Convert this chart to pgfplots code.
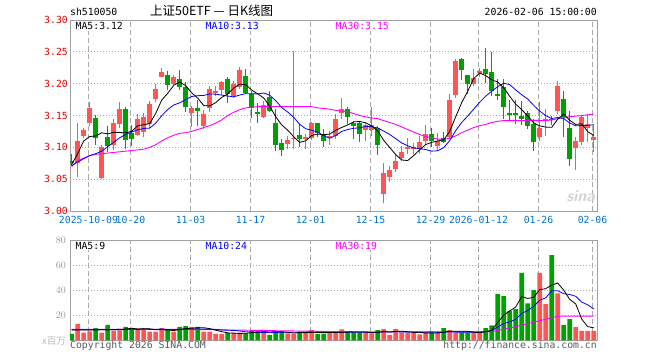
\documentclass[border=0pt]{standalone}
\usepackage{pgfplots}
\pgfplotsset{compat=1.18}
\usepackage{pgfplotstable}
\usepackage{fontspec}
\setmainfont{DejaVu Sans}
\setmonofont{DejaVu Sans Mono}
\newfontfamily\cjk{Noto Sans CJK SC}

\definecolor{upred}{RGB}{255,85,85}
\definecolor{dngreen}{RGB}{0,160,0}
\definecolor{mablue}{RGB}{0,0,255}
\definecolor{mamag}{RGB}{255,0,255}
\definecolor{tickred}{RGB}{230,0,0}
\definecolor{tickblue}{RGB}{0,114,206}
\definecolor{framegray}{RGB}{160,160,160}
\definecolor{gridgray}{RGB}{170,170,170}
\definecolor{volgray}{RGB}{150,150,150}

\pgfplotstableread{
k o h l c v
1 3.076 3.139 3.054 3.110 13.1
2 3.118 3.130 3.114 3.127 6.2
3 3.139 3.171 3.134 3.162 7.3
5 3.052 3.104 3.051 3.101 6.3
7 3.104 3.145 3.096 3.139 7.8
8 3.136 3.171 3.131 3.160 8.1
11 3.120 3.152 3.118 3.145 9.4
12 3.124 3.154 3.117 3.148 9.3
13 3.136 3.173 3.130 3.168 7.1
14 3.176 3.200 3.171 3.192 7.1
15 3.211 3.225 3.210 3.218 9.9
17 3.199 3.213 3.198 3.211 7.1
20 3.154 3.165 3.132 3.162 10.8
22 3.134 3.158 3.129 3.152 7.1
23 3.161 3.196 3.155 3.191 7.1
24 3.186 3.197 3.181 3.189 5.2
25 3.190 3.204 3.182 3.203 5.2
27 3.180 3.204 3.178 3.199 6.0
28 3.194 3.226 3.191 3.222 6.0
32 3.147 3.173 3.146 3.167 8.5
36 3.105 3.118 3.097 3.112 5.7
37 3.113 3.252 3.097 3.115 5.2
39 3.114 3.121 3.097 3.116 6.6
40 3.115 3.140 3.112 3.138 8.4
43 3.116 3.126 3.103 3.118 6.5
44 3.118 3.152 3.113 3.145 6.5
45 3.154 3.178 3.144 3.160 8.8
49 3.128 3.139 3.110 3.135 6.2
50 3.128 3.164 3.118 3.135 5.7
52 3.027 3.076 3.013 3.060 9.1
53 3.053 3.070 3.046 3.065 4.4
54 3.066 3.090 3.061 3.079 9.1
55 3.084 3.102 3.079 3.093 6.2
56 3.098 3.114 3.090 3.100 6.2
57 3.098 3.107 3.090 3.100 6.2
58 3.098 3.118 3.090 3.109 4.9
59 3.110 3.135 3.105 3.121 6.2
61 3.102 3.123 3.095 3.110 6.2
63 3.117 3.183 3.113 3.175 8.3
64 3.182 3.239 3.178 3.236 6.2
67 3.199 3.223 3.196 3.209 6.2
68 3.218 3.225 3.211 3.220 6.2
78 3.116 3.171 3.110 3.130 53.9
79 3.142 3.160 3.118 3.144 29.0
81 3.157 3.204 3.152 3.197 37.5
84 3.099 3.117 3.064 3.110 10.7
85 3.109 3.150 3.103 3.148 7.6
86 3.131 3.152 3.108 3.136 7.6
87 3.112 3.136 3.092 3.117 7.6
}\up

\pgfplotstableread{
k o h l c v
0 3.079 3.090 3.071 3.076 5.2
4 3.146 3.150 3.103 3.114 9.9
6 3.116 3.133 3.092 3.102 12.4
9 3.160 3.164 3.097 3.112 10.8
10 3.122 3.135 3.102 3.113 9.6
16 3.213 3.220 3.190 3.198 8.5
18 3.207 3.222 3.190 3.194 10.8
19 3.195 3.202 3.156 3.163 11.5
21 3.161 3.174 3.133 3.157 10.8
26 3.207 3.210 3.170 3.183 5.8
29 3.212 3.223 3.183 3.185 5.7
30 3.183 3.189 3.146 3.161 7.6
31 3.155 3.169 3.139 3.153 7.6
33 3.179 3.189 3.155 3.157 4.4
34 3.138 3.160 3.095 3.103 7.1
35 3.107 3.113 3.087 3.096 7.1
38 3.119 3.136 3.100 3.113 6.6
41 3.138 3.139 3.116 3.123 5.2
42 3.121 3.129 3.100 3.110 5.2
46 3.161 3.163 3.136 3.147 6.2
47 3.139 3.142 3.113 3.134 6.2
48 3.138 3.142 3.108 3.121 6.2
51 3.131 3.133 3.088 3.104 8.3
60 3.121 3.131 3.100 3.110 6.2
62 3.114 3.124 3.107 3.109 9.9
65 3.238 3.241 3.206 3.221 6.2
66 3.213 3.214 3.183 3.199 6.2
69 3.223 3.256 3.201 3.215 9.9
70 3.218 3.249 3.181 3.188 12.1
71 3.183 3.207 3.175 3.181 37.0
72 3.194 3.207 3.144 3.163 35.4
73 3.154 3.175 3.142 3.152 23.5
74 3.154 3.175 3.136 3.152 25.0
75 3.149 3.173 3.135 3.145 53.9
76 3.154 3.157 3.129 3.133 29.5
77 3.136 3.144 3.095 3.108 40.1
80 3.145 3.150 3.135 3.143 68.0
82 3.176 3.189 3.116 3.148 12.3
83 3.131 3.157 3.071 3.082 17.1
}\down

\pgfplotstableread{
k ma5 ma10 ma30 v5 v10 v30
0 3.073 3.071 3.070 8.3 8.5 8.8
1 3.090 3.077 3.079 8.3 8.5 8.8
2 3.110 3.082 3.083 8.3 8.5 8.8
3 3.117 3.087 3.087 8.3 8.5 8.8
4 3.1178 3.090 3.089 8.34 8.5 8.8
5 3.1228 3.094 3.090 8.56 8.5 8.8
6 3.1212 3.101 3.091 8.42 8.6 8.8
7 3.1236 3.108 3.092 8.74 8.6 8.8
8 3.1232 3.115 3.093 8.90 8.6 8.8
9 3.1228 3.1203 3.094 9.08 8.71 8.8
10 3.1252 3.1240 3.095 9.74 9.15 8.8
11 3.1338 3.1275 3.096 9.14 8.78 8.8
12 3.1356 3.1296 3.097 9.44 9.09 8.8
13 3.1372 3.1302 3.100 9.24 9.07 8.8
14 3.1532 3.1380 3.104 8.50 8.79 8.8
15 3.1742 3.1497 3.110 8.56 9.15 8.8
16 3.1848 3.1593 3.115 8.38 8.76 8.8
17 3.1974 3.1665 3.119 7.94 8.69 8.8
18 3.2026 3.1699 3.122 8.68 8.96 8.8
19 3.1968 3.1750 3.123 9.56 9.03 8.8
20 3.1856 3.1799 3.125 9.74 9.15 8.7
21 3.1774 3.1811 3.128 10.2 9.29 8.7
22 3.1656 3.1815 3.131 10.2 9.07 8.6
23 3.1650 3.1838 3.134 9.46 9.07 8.6
24 3.1702 3.1835 3.138 8.2 8.88 8.5
25 3.1784 3.1820 3.143 7.08 8.41 8.5
26 3.1836 3.1805 3.150 6.08 8.14 8.4
27 3.1930 3.1793 3.155 5.86 8.03 8.3
28 3.1992 3.1821 3.159 5.64 7.55 8.3
29 3.1984 3.1843 3.162 5.74 6.97 8.2
30 3.1900 3.1842 3.163 6.22 6.65 8.1
31 3.1840 3.1838 3.164 6.58 6.33 8.0
32 3.1776 3.1853 3.164 7.08 6.47 8.0
33 3.1646 3.1819 3.164 6.76 6.20 7.9
34 3.1482 3.1733 3.164 7.04 6.39 7.8
35 3.1352 3.1626 3.164 6.94 6.58 7.8
36 3.1270 3.1555 3.164 6.56 6.57 7.7
37 3.1166 3.1471 3.164 5.90 6.49 7.6
38 3.1078 3.1362 3.164 6.34 6.55 7.5
39 3.1102 3.1292 3.164 6.24 6.64 7.5
40 3.1186 3.1269 3.164 6.50 6.72 7.4
41 3.1208 3.1239 3.162 6.40 6.48 7.3
42 3.1198 3.1182 3.161 6.40 6.15 7.3
43 3.1208 3.1143 3.160 6.38 6.36 7.2
44 3.1268 3.1185 3.158 6.36 6.30 7.2
45 3.1312 3.1249 3.157 6.44 6.47 7.1
46 3.1352 3.1280 3.156 6.64 6.52 7.1
47 3.1400 3.1299 3.153 6.84 6.62 7.0
48 3.1406 3.1307 3.150 6.78 6.58 7.0
49 3.1386 3.1327 3.148 6.72 6.54 7.0
50 3.1336 3.1324 3.146 6.10 6.27 7.0
51 3.1258 3.1305 3.145 6.52 6.58 7.0
52 3.1110 3.1255 3.142 7.10 6.97 7.0
53 3.0998 3.1202 3.139 6.74 6.76 7.0
54 3.0886 3.1136 3.136 7.32 7.02 7.0
55 3.0802 3.1069 3.132 7.42 6.76 7.0
56 3.0792 3.1025 3.128 7.00 6.76 7.0
57 3.0872 3.0991 3.124 6.42 6.76 7.0
58 3.0960 3.0979 3.120 6.52 6.63 7.0
59 3.1044 3.0965 3.117 5.94 6.63 7.0
60 3.1078 3.0940 3.115 5.94 6.68 7.0
61 3.1100 3.0946 3.113 5.94 6.47 7.0
62 3.1118 3.0995 3.113 6.68 6.55 7.0
63 3.1250 3.1105 3.114 7.36 6.94 7.0
64 3.1480 3.1262 3.118 7.36 6.65 7.0
65 3.1702 3.1390 3.123 7.36 6.65 7.0
66 3.1880 3.1490 3.127 7.36 6.65 7.0
67 3.2080 3.1599 3.131 6.62 6.65 7.0
68 3.2168 3.1709 3.134 6.20 6.78 7.0
69 3.2126 3.1803 3.136 6.94 7.15 7.0
70 3.2060 3.1881 3.139 8.12 7.74 7.1
71 3.2026 3.1953 3.141 14.28 10.82 8.0
72 3.1934 3.2007 3.142 20.12 13.37 9.0
73 3.1802 3.1985 3.142 23.58 14.89 10.0
74 3.1678 3.1902 3.142 26.60 16.77 11.0
75 3.1592 3.1826 3.142 34.96 21.54 12.3
76 3.1494 3.1760 3.142 33.46 23.87 13.4
77 3.1384 3.1659 3.142 34.40 27.26 14.6
78 3.1338 3.1570 3.142 40.48 32.03 15.8
79 3.1318 3.1498 3.142 41.28 33.94 16.9
80 3.1314 3.1453 3.143 44.10 39.53 18.0
81 3.1442 3.1468 3.145 45.70 39.58 19.3
82 3.1522 3.1453 3.147 40.14 37.27 19.4
83 3.1426 3.1382 3.148 32.78 36.63 19.4
84 3.1360 3.1339 3.149 29.12 35.20 19.4
85 3.1370 3.1342 3.150 17.04 30.57 19.4
86 3.1248 3.1345 3.151 11.06 28.38 19.4
87 3.1186 3.1354 3.152 10.12 25.13 19.4
}\ma

\pgfplotsset{
  kstyle/.style={
    scale only axis, width=527bp,
    xmin=-0.283, xmax=87.55,
    axis line style={framegray, line width=0.9bp},
    major tick length=0pt,
    xtick={2.8,9.8,19.8,29.8,39.8,49.8,59.8,67.8,77.8,86.8},
    xmajorgrids, ymajorgrids,
    x grid style={gridgray, dash pattern=on 5bp off 3bp, line width=0.7bp},
    y grid style={gridgray, dash pattern=on 1bp off 2bp, line width=0.8bp},
    tick label style={font=\ttfamily\fontsize{9.8bp}{10bp}\selectfont, inner sep=0pt},
  },
  wick/.style={draw=none, mark=none, forget plot,
    error bars/.cd, y dir=both, y explicit, error mark=none,
    error bar style={draw=#1, line width=1bp}},
  body/.style={draw=none, mark=none, forget plot,
    error bars/.cd, y dir=both, y explicit, error mark=none,
    error bar style={draw=#1, line width=4.6bp}},
}

\begin{document}
\begin{tikzpicture}
\path[use as bounding box] (0,0) rectangle (660bp,360bp);

% price panel
\begin{axis}[kstyle,
  at={(70bp,149bp)}, anchor=south west, height=191bp,
  ymin=3.0, ymax=3.3,
  ytick={3,3.05,3.1,3.15,3.2,3.25,3.3},
  yticklabels={3.00,3.05,3.10,3.15,3.20,3.25,3.30},
  xticklabels={2025-10-09,10-20,11-03,11-17,12-01,12-15,12-29,2026-01-12,01-26,02-06},
  yticklabel style={tickred, anchor=east, xshift=-2bp},
  xticklabel style={tickblue, anchor=north, yshift=-5bp},
]
\addplot[wick=upred] table[x=k, y expr=(\thisrow{h}+\thisrow{l})/2, y error expr=(\thisrow{h}-\thisrow{l})/2] {\up};
\addplot[wick=dngreen] table[x=k, y expr=(\thisrow{h}+\thisrow{l})/2, y error expr=(\thisrow{h}-\thisrow{l})/2] {\down};
\addplot[body=upred] table[x=k, y expr=(\thisrow{o}+\thisrow{c})/2, y error expr=abs(\thisrow{c}-\thisrow{o})/2] {\up};
\addplot[body=dngreen] table[x=k, y expr=(\thisrow{o}+\thisrow{c})/2, y error expr=abs(\thisrow{c}-\thisrow{o})/2] {\down};
\addplot[mamag, line width=0.9bp, mark=none] table[x=k, y=ma30] {\ma};
\addplot[mablue, line width=0.8bp, mark=none] table[x=k, y=ma10] {\ma};
\addplot[black, line width=0.8bp, mark=none] table[x=k, y=ma5] {\ma};
\end{axis}

% volume panel
\begin{axis}[kstyle,
  at={(70bp,19.5bp)}, anchor=south west, height=100.5bp,
  ymin=0, ymax=80,
  ytick={20,40,60,80},
  xticklabels={},
  yticklabel style={volgray, anchor=east, xshift=-4bp},
]
\addplot[ybar, bar width=4.6bp, bar shift=0pt, fill=upred, draw=none, forget plot] table[x=k, y=v] {\up};
\addplot[ybar, bar width=4.6bp, bar shift=0pt, fill=dngreen, draw=none, forget plot] table[x=k, y=v] {\down};
\addplot[mamag, line width=0.9bp, mark=none] table[x=k, y=v30] {\ma};
\addplot[mablue, line width=0.8bp, mark=none] table[x=k, y=v10] {\ma};
\addplot[black, line width=0.8bp, mark=none] table[x=k, y=v5] {\ma};
\end{axis}

% texts
\def\mono{\ttfamily\fontsize{9.8bp}{10bp}\selectfont}
\tikzset{lab/.style={anchor=base west, inner xsep=0.5bp, inner ysep=1bp, fill=white, font=\mono}}
\node[anchor=base west, inner sep=0pt, font=\mono] at (70bp,344bp) {sh510050};
\node[anchor=base west, inner sep=0pt, font=\cjk\fontsize{12.5bp}{13bp}\selectfont] at (150bp,344bp) {上证50ETF — 日K线图};
\node[anchor=base east, inner sep=0pt, font=\mono] at (597bp,344bp) {2026-02-06 15:00:00};
\node[lab, text=black] at (75bp,330.5bp) {MA5:3.12};
\node[lab, text=mablue] at (205bp,330.5bp) {MA10:3.13};
\node[lab, text=mamag] at (335bp,330.5bp) {MA30:3.15};
\node[lab, text=black] at (75bp,110.8bp) {MA5:9};
\node[lab, text=mablue] at (205bp,110.8bp) {MA10:24};
\node[lab, text=mamag] at (335bp,110.8bp) {MA30:19};
\node[anchor=base east, inner sep=0pt, font=\cjk\fontsize{9.5bp}{10bp}\selectfont, gray!55] at (66bp,16bp) {x百万};
\node[anchor=base west, inner sep=0pt, font=\mono, black!65] at (70bp,12bp) {Copyright 2026 SINA.COM};
\node[anchor=base east, inner sep=0pt, font=\mono, black!65] at (597bp,12bp) {http://finance.sina.com.cn};
\node[anchor=base east, inner sep=0pt, font=\sffamily\bfseries\itshape\fontsize{16bp}{16bp}\selectfont, gray!35] at (595bp,158bp) {sina};
\end{tikzpicture}
\end{document}
